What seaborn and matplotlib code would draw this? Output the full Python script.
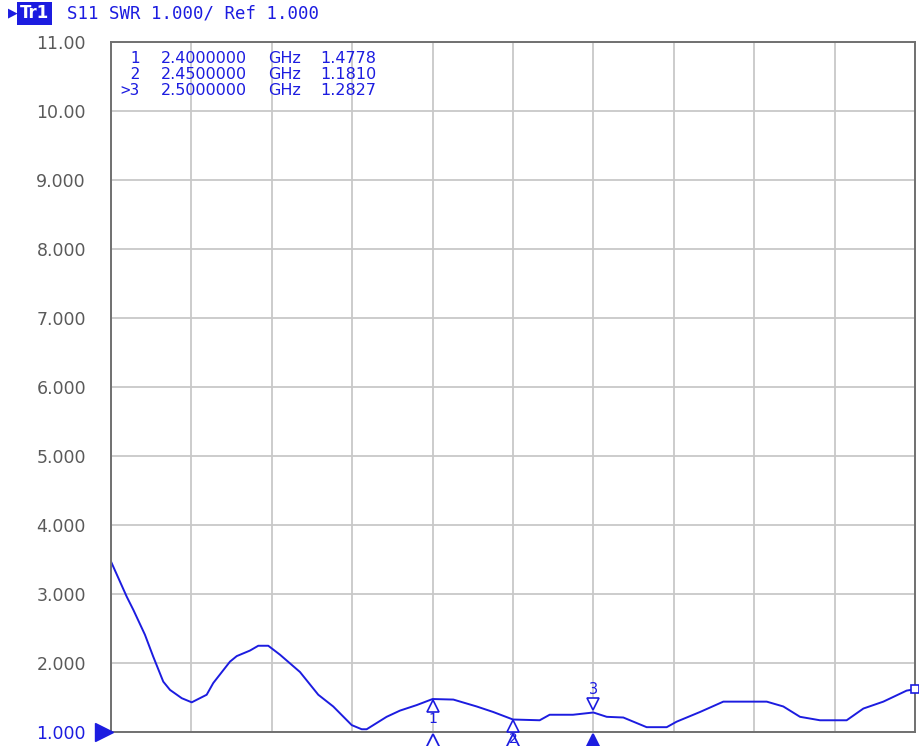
import numpy as np
import pandas as pd
import seaborn as sns
import matplotlib.pyplot as plt
import matplotlib.transforms as mtransforms

freq_ghz = [2.2000, 2.2098, 2.2139, 2.2211, 2.2263, 2.2325, 2.2367, 2.2440, 2.2502,
            2.2595, 2.2636, 2.2740, 2.2782, 2.2864, 2.2916, 2.2978, 2.3051, 2.3175,
            2.3289, 2.3382, 2.3497, 2.3559, 2.3590, 2.3714, 2.3797, 2.3901, 2.4000,
            2.4129, 2.4274, 2.4377, 2.4500, 2.4666, 2.4728, 2.4873, 2.5000, 2.5083,
            2.5186, 2.5331, 2.5456, 2.5518, 2.5663, 2.5808, 2.5912, 2.6078, 2.6181,
            2.6285, 2.6409, 2.6575, 2.6679, 2.6803, 2.6948, 2.7000]
swr = [3.47, 2.96, 2.77, 2.41, 2.09, 1.73, 1.61, 1.49, 1.43,
       1.54, 1.71, 2.02, 2.10, 2.18, 2.25, 2.25, 2.12, 1.87,
       1.54, 1.37, 1.10, 1.04, 1.04, 1.22, 1.31, 1.39, 1.4778,
       1.47, 1.37, 1.29, 1.1810, 1.17, 1.25, 1.25, 1.2827, 1.22,
       1.21, 1.07, 1.07, 1.15, 1.29, 1.44, 1.44, 1.44, 1.37,
       1.22, 1.17, 1.17, 1.34, 1.44, 1.60, 1.62]

# Marcadores
marker_ids = ['1', '2', '3']
marker_freq = [2.40, 2.45, 2.50]
marker_swr = [1.4778, 1.1810, 1.2827]
marker_rows = [' 1', ' 2', '>3']

y_ticks = [1, 2, 3, 4, 5, 6, 7, 8, 9, 10, 11]
y_labels = ['1.000', '2.000', '3.000', '4.000', '5.000', '6.000', '7.000',
            '8.000', '9.000', '10.00', '11.00']
x_start, x_stop = 2.20, 2.70

blue = '#1c1ce0'
grey_txt = '#5a5a5a'

sns.set_style('white')
plt.rcParams['font.family'] = ['DejaVu Sans']

fig = plt.figure(figsize=(9.2, 7.46), dpi=100)
ax = fig.add_axes([111 / 920, 1 - 732 / 746, 804 / 920, 690 / 746])

df = pd.DataFrame({'freq': freq_ghz, 'swr': swr})
sns.lineplot(data=df, x='freq', y='swr', ax=ax, color=blue, linewidth=1.4)

ax.set_xlim(x_start, x_stop)
ax.set_ylim(1, 11)
ax.set_xticks(np.linspace(x_start, x_stop, 11))
ax.set_xticklabels([])
ax.set_yticks(y_ticks)
ax.set_yticklabels(y_labels, fontsize=12.5, color=grey_txt)
ax.get_yticklabels()[0].set_color(blue)
ax.tick_params(length=0, pad=18)
ax.set_xlabel('')
ax.set_ylabel('')
ax.grid(True, color='#c8c8c8', linewidth=1.3)
for s in ax.spines.values():
    s.set_color('#707070')
    s.set_linewidth(1.4)

# Tabela de marcadores
for i, (row, f, v) in enumerate(zip(marker_rows, marker_freq, marker_swr)):
    y = 0.9875 - i * 0.0235
    kw = dict(transform=ax.transAxes, color=blue, fontsize=11.5, va='top')
    ax.text(0.012, y, row, family='DejaVu Sans Mono', **kw)
    ax.text(0.062, y, f'{f:.7f}', **kw)
    ax.text(0.195, y, 'GHz', **kw)
    ax.text(0.26, y, f'{v:.4f}', **kw)

# Marcadores no traço e na base
for mid, f, v in zip(marker_ids, marker_freq, marker_swr):
    active = mid == '3'
    ax.plot([f], [0.83], marker='^', ms=15, mec=blue, mew=1.3,
            mfc=blue if active else 'none', clip_on=False, zorder=5)
    if active:
        tr = mtransforms.offset_copy(ax.transData, fig=fig, x=0, y=6, units='points')
        ax.plot([f], [v], marker='v', ms=8, mec=blue, mfc='white', mew=1.2,
                transform=tr, clip_on=False, zorder=5)
        ax.annotate(mid, (f, v), xytext=(0, 11), textcoords='offset points',
                    ha='center', va='bottom', color=blue, fontsize=10.5, zorder=7)
    else:
        tr = mtransforms.offset_copy(ax.transData, fig=fig, x=0, y=-5, units='points')
        ax.plot([f], [v], marker='^', ms=8, mec=blue, mfc='white', mew=1.2,
                transform=tr, clip_on=False, zorder=5)
        ax.annotate(mid, (f, v), xytext=(0, -9), textcoords='offset points',
                    ha='center', va='top', color=blue, fontsize=10, zorder=7,
                    annotation_clip=False)

# Marcador de referência e fim do traço
tr_ref = mtransforms.offset_copy(ax.transData, fig=fig, x=-5, y=0, units='points')
ax.plot([x_start], [1.0], marker='>', ms=13, color=blue, transform=tr_ref,
        clip_on=False, zorder=6)
ax.plot([freq_ghz[-1]], [swr[-1]], marker='s', ms=6, mec=blue, mfc='white',
        mew=1.2, clip_on=False, zorder=6)

# Cabeçalho do traço
fig.text(8 / 920, 1 - 13 / 746, '\u25B6', color=blue, fontsize=9, va='center')
fig.text(20 / 920, 1 - 13 / 746, 'Tr1', color='white', fontsize=12, fontweight='bold',
         va='center', bbox=dict(boxstyle='square,pad=0.15', fc=blue, ec='none'))
fig.text(67 / 920, 1 - 13 / 746, 'S11 SWR 1.000/ Ref 1.000', color=blue,
         fontsize=12.5, family='DejaVu Sans Mono', va='center')

fig.savefig('out.png', dpi=100)
